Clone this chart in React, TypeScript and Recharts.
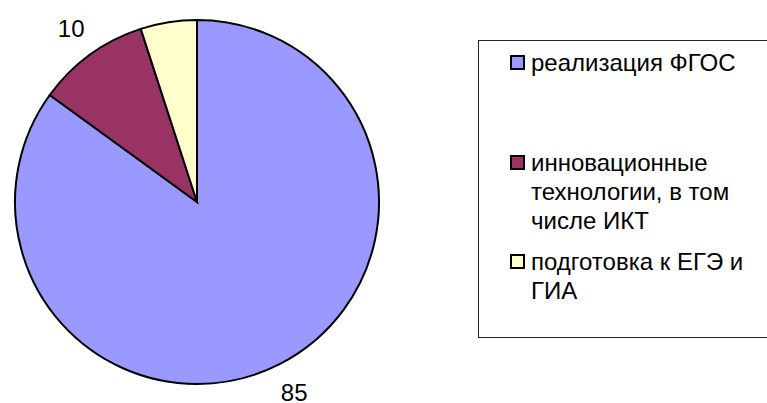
import React from 'react';
import { PieChart, Pie, Cell, Legend } from 'recharts';

const categories = ['реализация ФГОС', 'инновационные технологии, в том числе ИКТ', 'подготовка к ЕГЭ и ГИА'];
const values = [85, 10, 5];
const colors = ['#9999FF', '#993366', '#FFFFCC'];

const data = categories.map((name, i) => ({ name, value: values[i] }));

const RADIAN = Math.PI / 180;

// labels sit outside the slice, centred on the mid angle
const renderLabel = (props: any) => {
  const { cx, cy, midAngle, outerRadius, value } = props;
  const r = outerRadius + 32;
  const x = cx + r * Math.cos(-midAngle * RADIAN);
  const y = cy + r * Math.sin(-midAngle * RADIAN);
  return (
    <text x={x} y={y} textAnchor="middle" dominantBaseline="central" fill="#000" fontSize={24} fontFamily="Liberation Sans, Arial, sans-serif">
      {value}
    </text>
  );
};

const itemTops = [7, 107, 206];

const renderLegend = () => (
  <div
    style={{
      position: 'relative',
      width: 290,
      height: 298,
      border: '1px solid #222',
      boxSizing: 'border-box',
      fontFamily: 'Liberation Sans, Arial, sans-serif',
      fontSize: 24,
      lineHeight: '29px',
      color: '#000',
    }}
  >
    {data.map((d, i) => (
      <div key={d.name} style={{ position: 'absolute', left: 31, top: itemTops[i], display: 'flex' }}>
        <div
          style={{
            width: 15,
            height: 15,
            marginTop: 7,
            border: '2px solid #000',
            background: colors[i],
            boxSizing: 'border-box',
            flexShrink: 0,
          }}
        />
        <div style={{ marginLeft: 6, width: 222 }}>{d.name}</div>
      </div>
    ))}
  </div>
);

export default function App() {
  return (
    <div style={{ width: 767, height: 403, position: 'relative' }}>
      <style>{`body{margin:0}`}</style>
      <PieChart width={767} height={403} margin={{ top: 0, right: 0, bottom: 0, left: 0 }}>
        <Pie
          data={data}
          dataKey="value"
          nameKey="name"
          cx={197}
          cy={202}
          outerRadius={182}
          startAngle={90}
          endAngle={-270}
          stroke="#000"
          strokeWidth={2}
          label={renderLabel}
          labelLine={false}
          isAnimationActive={false}
        >
          {data.map((d, i) => (
            <Cell key={d.name} fill={colors[i]} />
          ))}
        </Pie>
        <Legend content={renderLegend} wrapperStyle={{ left: 478, top: 40, width: 290 }} />
      </PieChart>
    </div>
  );
}
